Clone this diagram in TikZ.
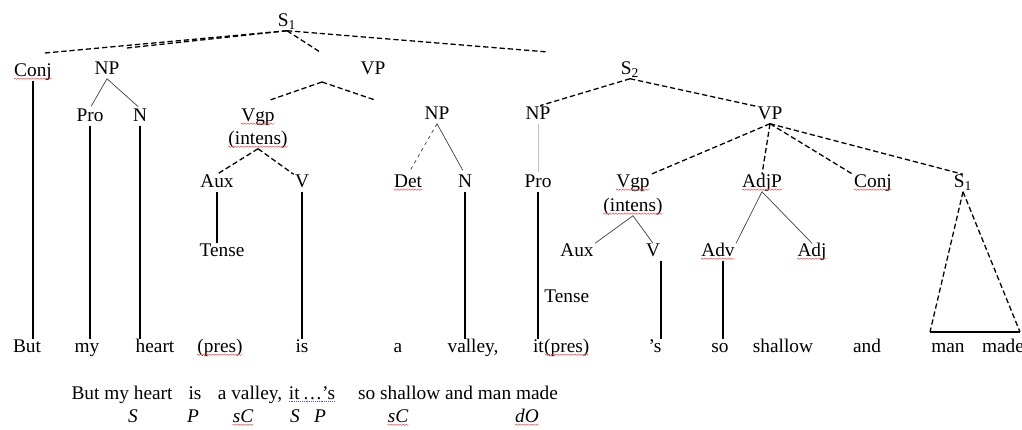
\documentclass[tikz,border=0pt]{standalone}
\usepackage{fontspec}
\setmainfont{Liberation Serif}
\usetikzlibrary{decorations.pathmorphing}
\tikzset{
  cat/.style={inner sep=1pt, text height=10pt, text depth=2.5pt, font=\fontsize{16.5}{19}\selectfont},
  word/.style={cat},
  fn/.style={cat, font=\fontsize{16.5}{19}\selectfont\itshape},
  branch/.style={dash pattern=on 4.5pt off 2.5pt, line width=1.1pt},
  leaf/.style={line width=1.4pt},
  twig/.style={line width=0.6pt, black!75},
  squiggle/.style={red!75, line width=0.4pt, decorate, decoration={snake, amplitude=0.5pt, segment length=2.5pt}},
}
\begin{document}
\begin{tikzpicture}[x=0.3mm,y=-0.3mm]
    \useasboundingbox (0,0) rectangle (1022,429);
    % categories
    \node[cat] (s1) at (287,22) {S\textsubscript{1}};
    \node[cat] (conjA) at (33,72) {Conj};
    \node[cat] (npA) at (107,70) {NP};
    \node[cat] (vpA) at (373,70) {VP};
    \node[cat] (s2) at (630,70) {S\textsubscript{2}};
    \node[cat] (proA) at (90,117) {Pro};
    \node[cat] (nA) at (140,117) {N};
    \node[cat] (vgpA) at (258,117) {Vgp};
    \node[cat] (intA) at (258,140) {(intens)};
    \node[cat] (npB) at (437,115) {NP};
    \node[cat] (npC) at (538,115) {NP};
    \node[cat] (vpB) at (770,115) {VP};
    \node[cat] (auxA) at (217,183) {Aux};
    \node[cat] (vA) at (302,183) {V};
    \node[cat] (detA) at (408,183) {Det};
    \node[cat] (nB) at (465,183) {N};
    \node[cat] (proB) at (538,183) {Pro};
    \node[cat] (vgpB) at (633,183) {Vgp};
    \node[cat] (intB) at (633,207) {(intens)};
    \node[cat] (adjpA) at (762,183) {AdjP};
    \node[cat] (conjB) at (873,183) {Conj};
    \node[cat] (s3) at (963,183) {S\textsubscript{1}};
    \node[cat] (tenseA) at (222,252) {Tense};
    \node[cat] (auxB) at (577,252) {Aux};
    \node[cat] (vB) at (653,252) {V};
    \node[cat] (advA) at (718,252) {Adv};
    \node[cat] (adjA) at (812,252) {Adj};
    \node[cat,anchor=west] (tenseB) at (543,298) {Tense};
    % words
    \node[word] (w1) at (27,348) {But};
    \node[word] (w2) at (87,348) {my};
    \node[word] (w3) at (155,348) {heart};
    \node[word] (w4) at (220,348) {(pres)};
    \node[word] (w5) at (302,348) {is};
    \node[word] (w6) at (398,348) {a};
    \node[word] (w7) at (473,348) {valley,};
    \node[word,anchor=east,inner xsep=0pt] (w8) at (544,348) {it};
    \node[word,anchor=west,inner xsep=0pt] (w8p) at (w8.east) {(pres)};
    \node[word] (w9) at (655,348) {'s};
    \node[word] (w10) at (720,348) {so};
    \node[word] (w11) at (783,348) {shallow};
    \node[word] (w12) at (867,348) {and};
    \node[word] (w13) at (948,348) {man};
    \node[word] (w14) at (1003,348) {made};
    % functions
    \node[word] (fa) at (122,395) {But my heart};
    \node[word] (fb) at (195,395) {is};
    \node[word] (fc) at (250,395) {a valley,};
    \node[word] (fd) at (312,395) {it\,\ldots's};
    \node[word] (fe) at (458,395) {so shallow and man made};
    \node[fn] (gS1) at (133,418) {S};
    \node[fn] (gP1) at (193,418) {P};
    \node[fn] (gC1) at (243,418) {sC};
    \node[fn] (gS2) at (295,418) {S};
    \node[fn] (gP2) at (320,418) {P};
    \node[fn] (gC2) at (398,418) {sC};
    \node[fn] (gO) at (527,418) {dO};
    % loose ends
    \coordinate (s1conj) at (45,53);
    \coordinate (s1np) at (127,48);
    \coordinate (s1vp) at (320,52);
    \coordinate (s1s2) at (548,52);
    \coordinate (vpAtop) at (322,82);
    \coordinate (vpAl) at (270,100);
    \coordinate (vpAr) at (375,100);
    \coordinate (triL) at (930,332);
    \coordinate (triR) at (1020,332);
    % dashed branches
    \draw[branch] (s1.south) -- (s1conj);
    \draw[branch] (s1.south) -- (s1np);
    \draw[branch] (s1.south) -- (s1vp);
    \draw[branch] (s1.south) -- (s1s2);
    \draw[branch] (vpAtop) -- (vpAl);
    \draw[branch] (vpAtop) -- (vpAr);
    \draw[branch] (intA.south) -- (auxA.north);
    \draw[branch] (intA.south) -- (vA.north west);
    \draw[branch,shorten >=2pt] (s2.south) -- (npC.north);
    \draw[branch] (s2.south) -- (vpB.north west);
    \foreach \n/\a in {vgpB/north east,adjpA/north,conjB/north west,s3/north}
      \draw[branch] (vpB.south) -- (\n.\a);
    \draw[branch] (s3.south) -- (triL);
    \draw[branch] (s3.south) -- (triR);
    % thin branches
    \draw[twig,shorten >=2pt] (npA.south) -- (proA.north);
    \draw[twig,shorten >=2pt] (npA.south) -- (nA.north);
    \draw[twig,dashed,shorten >=4pt] (npB.south) -- (detA.north);
    \draw[twig,shorten >=4pt] (npB.south) -- (nB.north);
    \draw[twig,black!25,shorten >=2pt] (npC.south) -- (proB.north);
    \draw[twig] (intB.south) -- (auxB.north east);
    \draw[twig] (intB.south) -- (vB.north);
    \draw[twig] (adjpA.south) -- (advA.north east);
    \draw[twig] (adjpA.south) -- (adjA.north);
    % lines down to the words
    \draw[leaf] (conjA.south) -- (conjA.south |- w1.north);
    \draw[leaf] (proA.south) -- (proA.south |- w2.north);
    \draw[leaf] (nA.south) -- (nA.south |- w3.north);
    \draw[leaf] (auxA.south) -- (auxA.south |- tenseA.north);
    \draw[leaf] (vA.south) -- (vA.south |- w5.north);
    \draw[leaf] (nB.south) -- (nB.south |- w7.north);
    \draw[leaf] (proB.south) -- (proB.south |- w8.north);
    \draw[leaf] ([xshift=2.4mm]vB.south) -- ([xshift=2.4mm]vB.south |- w9.north);
    \draw[leaf] ([xshift=1.5mm]advA.south) -- ([xshift=1.5mm]advA.south |- w10.north);
    \draw[leaf] (triL) -- (triR);
    % spelling marks
    \foreach \n in {conjA,vgpA,intA,detA,vgpB,intB,adjpA,conjB,advA,adjA,w4,w8p,gC1,gC2,gO}
      \draw[squiggle] ([xshift=1pt,yshift=-2pt]\n.base west) -- ([xshift=-1pt,yshift=-2pt]\n.base east);
    \draw[blue!70, densely dotted, line width=0.6pt] ([xshift=1pt,yshift=-2pt]fd.base west) -- ([xshift=-1pt,yshift=-2pt]fd.base east);
\end{tikzpicture}
\end{document}
